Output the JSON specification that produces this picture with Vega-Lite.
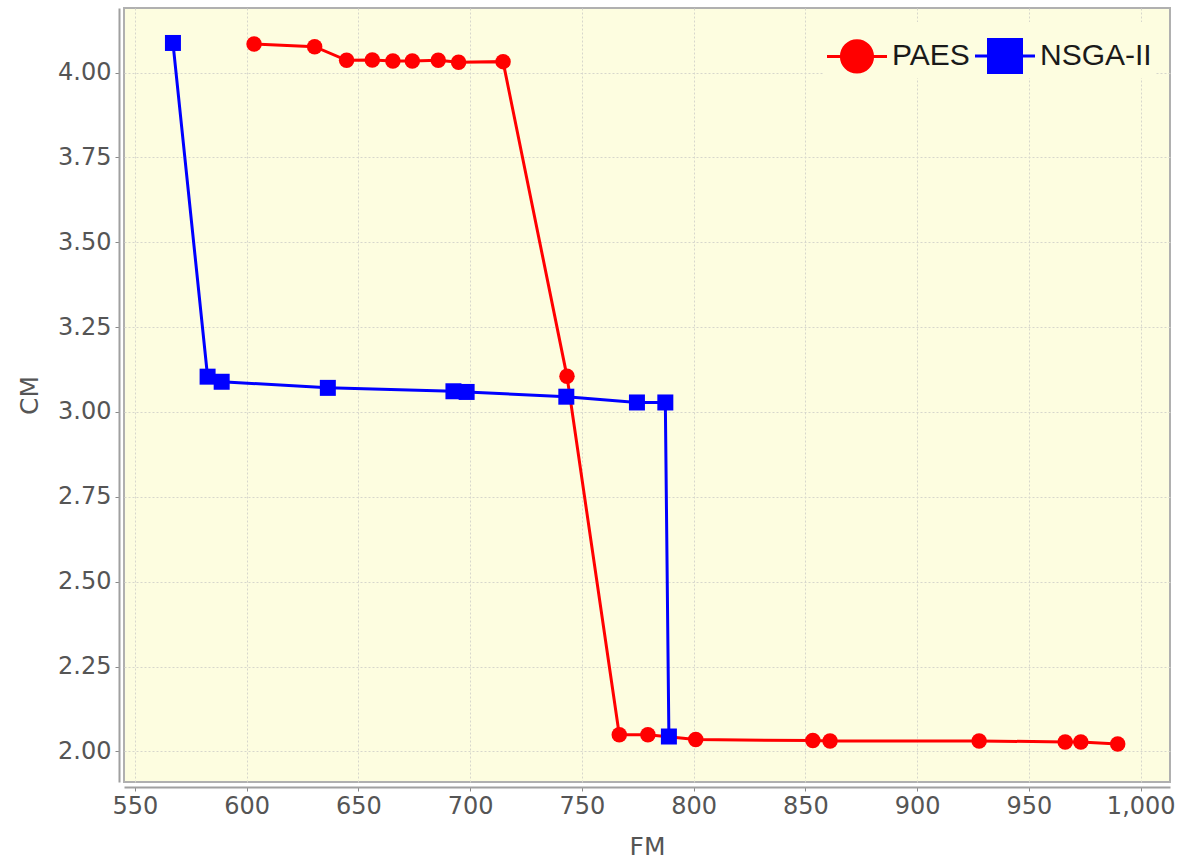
{
  "$schema": "https://vega.github.io/schema/vega-lite/v6.json",
  "width": 1046,
  "height": 774,
  "autosize": {"type": "none"},
  "padding": {"left": 124, "top": 8, "right": 8, "bottom": 83},
  "background": "#ffffff",
  "config": {
    "view": {"fill": "#fdfde0", "stroke": "#b0b0b0", "strokeWidth": 2},
    "font": "DejaVu Sans"
  },
  "data": {
    "values": [
      {"series": "PAES", "FM": 603.3, "CM": 4.084},
      {"series": "PAES", "FM": 630.4, "CM": 4.076},
      {"series": "PAES", "FM": 644.7, "CM": 4.036},
      {"series": "PAES", "FM": 656.2, "CM": 4.037},
      {"series": "PAES", "FM": 665.4, "CM": 4.034},
      {"series": "PAES", "FM": 674.1, "CM": 4.034},
      {"series": "PAES", "FM": 685.7, "CM": 4.036},
      {"series": "PAES", "FM": 694.8, "CM": 4.030},
      {"series": "PAES", "FM": 714.7, "CM": 4.032},
      {"series": "PAES", "FM": 743.3, "CM": 3.105},
      {"series": "PAES", "FM": 766.7, "CM": 2.049},
      {"series": "PAES", "FM": 779.5, "CM": 2.049},
      {"series": "PAES", "FM": 800.9, "CM": 2.035},
      {"series": "PAES", "FM": 853.3, "CM": 2.032},
      {"series": "PAES", "FM": 861.0, "CM": 2.031},
      {"series": "PAES", "FM": 927.7, "CM": 2.031},
      {"series": "PAES", "FM": 966.2, "CM": 2.028},
      {"series": "PAES", "FM": 973.2, "CM": 2.028},
      {"series": "PAES", "FM": 989.7, "CM": 2.022},
      {"series": "NSGA-II", "FM": 567.0, "CM": 4.087},
      {"series": "NSGA-II", "FM": 582.5, "CM": 3.104},
      {"series": "NSGA-II", "FM": 588.8, "CM": 3.089},
      {"series": "NSGA-II", "FM": 636.3, "CM": 3.071},
      {"series": "NSGA-II", "FM": 692.5, "CM": 3.061},
      {"series": "NSGA-II", "FM": 698.4, "CM": 3.059},
      {"series": "NSGA-II", "FM": 743.0, "CM": 3.045},
      {"series": "NSGA-II", "FM": 774.6, "CM": 3.028},
      {"series": "NSGA-II", "FM": 787.3, "CM": 3.028},
      {"series": "NSGA-II", "FM": 788.9, "CM": 2.044}
    ]
  },
  "encoding": {
    "x": {
      "field": "FM", "type": "quantitative",
      "scale": {"domain": [545.1, 1013.1], "nice": false, "zero": false},
      "axis": {
        "values": [550, 600, 650, 700, 750, 800, 850, 900, 950, 1000],
        "format": ",d", "title": "FM", "offset": 5,
        "labelFontSize": 24, "labelColor": "#555555", "labelPadding": 3,
        "tickSize": 4, "tickColor": "#888888", "domainColor": "#a0a0a0", "domainWidth": 2,
        "gridColor": "#d6d6cc", "gridDash": [2, 2], "gridWidth": 1,
        "titleFontSize": 25, "titleFontWeight": "normal", "titleColor": "#555555", "titlePadding": 16,
        "labelFlush": false
      }
    },
    "y": {
      "field": "CM", "type": "quantitative",
      "scale": {"domain": [1.91, 4.19], "nice": false, "zero": false},
      "axis": {
        "values": [2.0, 2.25, 2.5, 2.75, 3.0, 3.25, 3.5, 3.75, 4.0],
        "format": ".2f", "title": "CM", "offset": 5,
        "labelFontSize": 24, "labelColor": "#555555", "labelPadding": 4,
        "tickSize": 4, "tickColor": "#888888", "domainColor": "#a0a0a0", "domainWidth": 2,
        "gridColor": "#d6d6cc", "gridDash": [2, 2], "gridWidth": 1,
        "titleFontSize": 25, "titleFontWeight": "normal", "titleColor": "#555555", "titlePadding": 15
      }
    },
    "color": {
      "field": "series", "type": "nominal",
      "scale": {"domain": ["PAES", "NSGA-II"], "range": ["#ff0000", "#0000ff"]},
      "legend": {
        "title": null,
        "orient": "top-right",
        "direction": "horizontal",
        "offset": 14,
        "padding": 4,
        "fillColor": "#fdfde0",
        "symbolSize": 3600,
        "symbolStrokeWidth": 0,
        "labelFont": "Liberation Sans",
        "labelFontSize": 30,
        "labelColor": "#1a1a1a",
        "labelOffset": 5,
        "columnPadding": 5,
        "encode": {
          "symbols": {
            "update": {
              "shape": {"signal": "datum.value === 'PAES' ? 'M-1,-0.05H1V0.05H-1Z M0.57,0A0.57,0.57,0,1,1,-0.57,0A0.57,0.57,0,1,1,0.57,0Z' : 'M-1,-0.05H1V0.05H-1Z M-0.6,-0.6H0.6V0.6H-0.6Z'"},
              "fill": {"signal": "datum.value === 'PAES' ? '#ff0000' : '#0000ff'"},
              "fillOpacity": {"value": 1},
              "strokeWidth": {"value": 0},
              "opacity": {"value": 1}
            }
          }
        }
      }
    }
  },
  "layer": [
    {
      "transform": [{"filter": "datum.series === 'PAES'"}],
      "mark": {"type": "line", "strokeWidth": 3},
      "encoding": {"order": {"field": "FM", "type": "quantitative"}}
    },
    {
      "transform": [{"filter": "datum.series === 'PAES'"}],
      "mark": {"type": "point", "shape": "circle", "filled": true, "opacity": 1, "size": 240}
    },
    {
      "transform": [{"filter": "datum.series === 'NSGA-II'"}],
      "mark": {"type": "line", "strokeWidth": 3},
      "encoding": {"order": {"field": "FM", "type": "quantitative"}}
    },
    {
      "transform": [{"filter": "datum.series === 'NSGA-II'"}],
      "mark": {"type": "point", "shape": "square", "filled": true, "opacity": 1, "size": 256}
    }
  ]
}
